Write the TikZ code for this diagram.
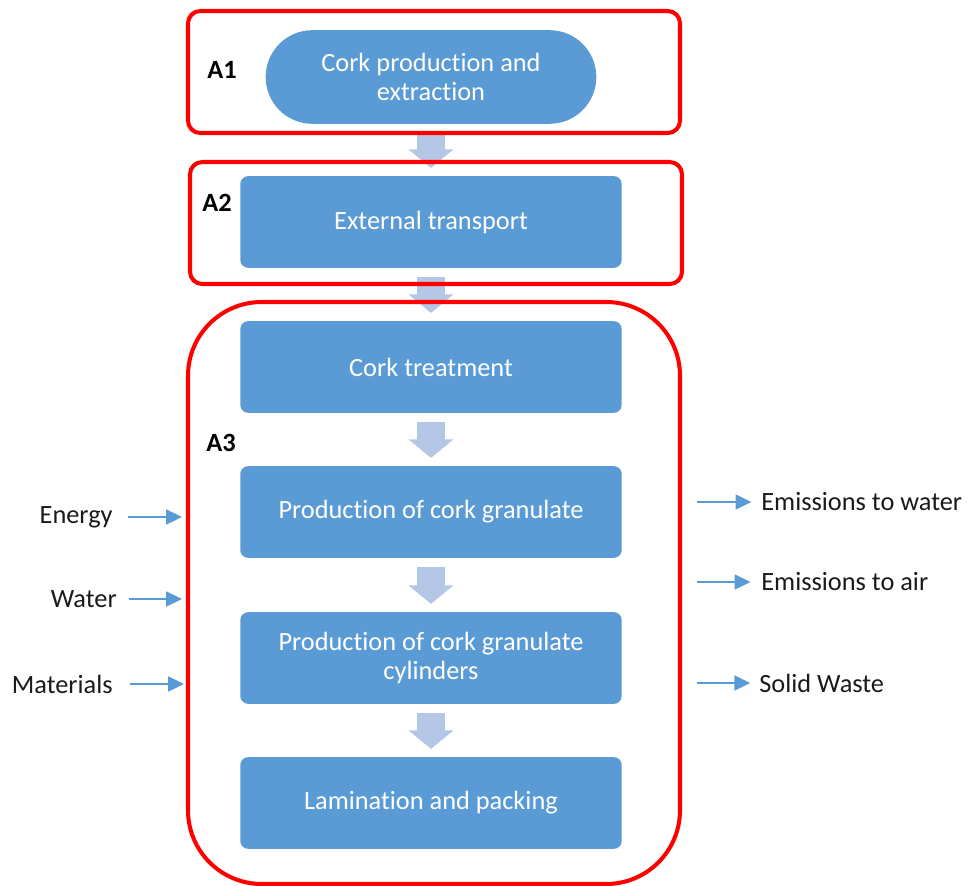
\documentclass[tikz,border=0pt]{standalone}
\usepackage{fontspec}
\setmainfont{Carlito}[Ligatures=NoCommon, RawFeature={-liga;-clig;-calt;-dlig;-rlig}]
\usetikzlibrary{arrows.meta}
\newcommand{\tsep}{t\kern0pt i}
\definecolor{boxblue}{HTML}{5B9BD5}
\definecolor{lightarrow}{HTML}{B4C7E7}
\definecolor{framered}{HTML}{FF0000}
\definecolor{txt}{HTML}{1A1A1A}
\tikzset{
  procbox/.style={draw=none, fill=boxblue, text=white, rounded corners=4.5pt,
    minimum width=217.1pt, minimum height=52.2pt, align=center, inner sep=0pt,
    font=\fontsize{15}{16.5}\selectfont},
  stadium/.style={procbox, rounded corners=26.6pt, minimum width=188.2pt, minimum height=53.3pt},
  blockarrow/.style={draw=lightarrow, line width=15.9pt, line cap=butt,
    -{Triangle[width=25pt, length=10.5pt]}},
  redframe/.style={draw=framered, line width=2.3pt},
  alabel/.style={font=\fontsize{15}{17}\selectfont\bfseries, text=black},
  sidelbl/.style={font=\fontsize{15}{17}\selectfont, text=txt, inner sep=0pt},
  sidearrow/.style={draw=boxblue, line width=1.1pt, -{Triangle[length=9pt, width=8.5pt]}}
}
\begin{document}
\begin{tikzpicture}[x=0.02cm, y=-0.02cm]
\useasboundingbox (0,0) rectangle (971,886);
% process boxes
\node[stadium] (b1) at (431,77) {Cork production and\\extrac\tsep on};
\node[procbox] (b2) at (431,222) {External transport};
\node[procbox] (b3) at (431,367) {Cork treatment};
\node[procbox] (b4) at (431,512) {Produc\tsep on of cork granulate};
\node[procbox] (b5) at (431,658) {Produc\tsep on of cork granulate\\cylinders};
\node[procbox] (b6) at (431,803) {Lamina\tsep on and packing};
% block arrows
\draw[blockarrow] ([yshift=-5.1pt]b1.south) -- ([yshift=4.5pt]b2.north);
\draw[blockarrow] ([yshift=-5.1pt]b2.south) -- ([yshift=4.5pt]b3.north);
\draw[blockarrow] ([yshift=-5.1pt]b3.south) -- ([yshift=4.5pt]b4.north);
\draw[blockarrow] ([yshift=-5.1pt]b4.south) -- ([yshift=4.5pt]b5.north);
\draw[blockarrow] ([yshift=-5.1pt]b5.south) -- ([yshift=4.5pt]b6.north);
% red frames
\draw[redframe, rounded corners=7pt] (188,11) rectangle (680,133);
\draw[redframe, rounded corners=7pt] (190,162) rectangle (682,284);
\draw[redframe, rounded corners=42pt] (188,302) rectangle (680,884);
% frame labels
\node[alabel] (a1) at (222,70) {A1};
\node[alabel] (a2) at (217,203) {A2};
\node[alabel] (a3) at (221,443) {A3};
% inputs
\node[sidelbl, anchor=east] (energy) at (113,517) {Energy};
\node[sidelbl, anchor=east] (water) at (117,599) {Water};
\node[sidelbl, anchor=east] (materials) at (113,684) {Materials};
\coordinate (ein) at (182,517);
\coordinate (win) at (182,599);
\coordinate (min) at (184,684);
\draw[sidearrow] ([xshift=8.5pt]energy.east) -- (ein);
\draw[sidearrow] ([xshift=6.8pt]water.east) -- (win);
\draw[sidearrow] ([xshift=9.6pt]materials.east) -- (min);
% outputs
\node[sidelbl, anchor=west] (ew) at (761,502) {Emissions to water};
\node[sidelbl, anchor=west] (ea) at (761,582) {Emissions to air};
\node[sidelbl, anchor=west] (sw) at (759,683) {Solid Waste};
\coordinate (ewo) at (697,502);
\coordinate (eao) at (697,582);
\coordinate (swo) at (697,683);
\draw[sidearrow] (ewo) -- ([xshift=-5.5pt]ew.west);
\draw[sidearrow] (eao) -- ([xshift=-6pt]ea.west);
\draw[sidearrow] (swo) -- ([xshift=-5pt]sw.west);
\end{tikzpicture}
\end{document}
